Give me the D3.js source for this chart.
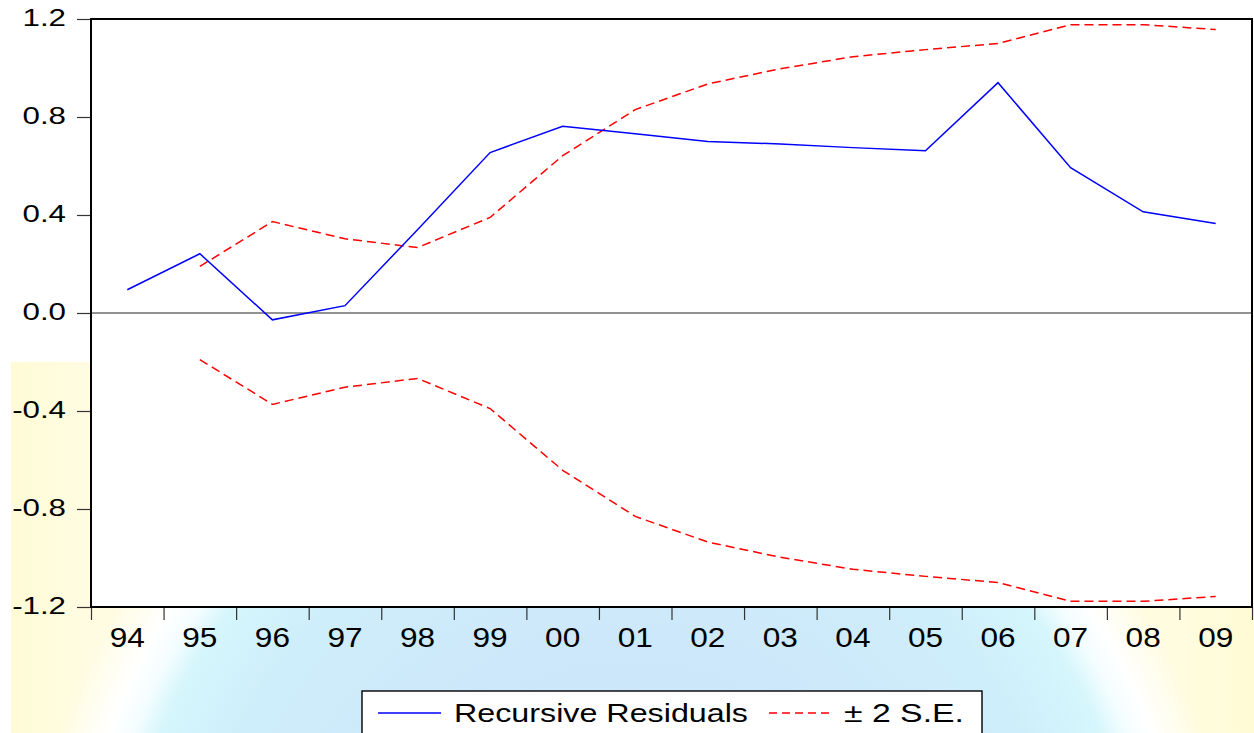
<!DOCTYPE html>
<html>
<head>
<meta charset="utf-8">
<script src="https://cdn.jsdelivr.net/npm/d3@7"></script>
<style>
  html, body { margin: 0; padding: 0; background: #ffffff; }
  svg { display: block; font-family: "Liberation Sans", Arial, sans-serif; }
</style>
</head>
<body>
<svg id="chart" width="1254" height="733"></svg>
<script>
// Recursive residuals with ±2 standard-error bands, 1994–2009
const years = ["94","95","96","97","98","99","00","01","02","03","04","05","06","07","08","09"];
const residuals = [0.095, 0.242, -0.028, 0.030, 0.340, 0.655, 0.762, 0.732, 0.700, 0.690, 0.675, 0.662, 0.940, 0.593, 0.413, 0.365];
// band starts one period later (first residual has no standard error)
const seUpper = [null, 0.190, 0.373, 0.303, 0.267, 0.390, 0.642, 0.830, 0.935, 0.997, 1.046, 1.075, 1.100, 1.177, 1.177, 1.157];
const seLower = seUpper.map(v => v == null ? null : -v);
const yTicks = [-1.2, -0.8, -0.4, 0.0, 0.4, 0.8, 1.2];
const yTickLabels = ["-1.2", "-0.8", "-0.4", "0.0", "0.4", "0.8", "1.2"];
const legendLabels = ["Recursive Residuals", "\u00B1 2 S.E."];

const svg = d3.select("#chart");
const W = 1254, H = 733;
const m = { left: 91, top: 19, right: 1252, bottom: 607 };

// ---- backdrop: pale yellow panel with a soft blue globe ----
const defs = svg.append("defs");
const yg = defs.append("linearGradient").attr("id", "yellowBg").attr("x1", "0").attr("x2", "1");
yg.append("stop").attr("offset", "0%").attr("stop-color", "#fffbd6");
yg.append("stop").attr("offset", "6%").attr("stop-color", "#fffce2");
yg.append("stop").attr("offset", "94%").attr("stop-color", "#fffce0");
yg.append("stop").attr("offset", "100%").attr("stop-color", "#fffbd4");

const rg = defs.append("radialGradient").attr("id", "globe")
  .attr("gradientUnits", "userSpaceOnUse").attr("cx", 630).attr("cy", 916).attr("r", 600);
rg.append("stop").attr("offset", "0%").attr("stop-color", "#c9ddf8");
rg.append("stop").attr("offset", "72%").attr("stop-color", "#cfeefb");
rg.append("stop").attr("offset", "84%").attr("stop-color", "#d6f6fc");
rg.append("stop").attr("offset", "88%").attr("stop-color", "#f3fdff");
rg.append("stop").attr("offset", "92%").attr("stop-color", "#ffffff");
rg.append("stop").attr("offset", "100%").attr("stop-color", "#ffffff").attr("stop-opacity", 0);

svg.append("rect").attr("x", 11).attr("y", 362).attr("width", W - 11).attr("height", H - 362)
  .attr("fill", "url(#yellowBg)");
svg.append("circle").attr("cx", 630).attr("cy", 916).attr("r", 600).attr("fill", "url(#globe)");

// ---- scales ----
const xBand = d3.scaleBand().domain(years).range([m.left, m.right]).padding(0);
const xEdge = d3.scaleLinear().domain([0, years.length]).range([m.left, m.right]);
const y = d3.scaleLinear().domain([-1.2, 1.2]).range([m.bottom, m.top]);
const cx = d => xBand(d) + xBand.bandwidth() / 2;

// plot panel
svg.append("rect").attr("x", m.left).attr("y", m.top)
  .attr("width", m.right - m.left).attr("height", m.bottom - m.top).attr("fill", "#ffffff");

// zero reference line
svg.append("line").attr("x1", m.left).attr("x2", m.right)
  .attr("y1", y(0)).attr("y2", y(0)).attr("stroke", "#6e6e6e").attr("stroke-width", 1.3);

// ---- y axis ----
const ySx = 1.36;
const yAxis = svg.append("g").attr("transform", `translate(${m.left},0)`)
  .call(d3.axisLeft(y).tickValues(yTicks).tickSize(14).tickPadding(11)
    .tickFormat((d, i) => yTickLabels[i]));
yAxis.select(".domain").remove();
yAxis.selectAll(".tick line").attr("stroke", "#333").attr("stroke-width", 1.2);
yAxis.selectAll(".tick text")
  .attr("font-size", 23).attr("font-family", "Liberation Sans, Arial, sans-serif")
  .attr("fill", "#000").attr("dy", "0.28em")
  .attr("x", -25 / ySx).attr("transform", `scale(${ySx},1)`);

// ---- x axis: boundary ticks + centred year labels ----
const xTicksG = svg.append("g").attr("transform", `translate(0,${m.bottom})`)
  .call(d3.axisBottom(xEdge).tickValues(d3.range(years.length + 1)).tickSize(13).tickFormat(""));
xTicksG.select(".domain").remove();
xTicksG.selectAll(".tick line").attr("stroke", "#333").attr("stroke-width", 1.2);

const xSx = 1.17;
svg.append("g").selectAll("text").data(years).join("text")
  .attr("x", d => cx(d) / xSx).attr("y", 647)
  .attr("transform", `scale(${xSx},1)`)
  .attr("text-anchor", "middle").attr("font-size", 27).attr("fill", "#000")
  .text(d => d);

// ---- series ----
const line = d3.line().defined(d => d[1] != null).x(d => cx(d[0])).y(d => y(d[1]));

const bandStyle = sel => sel.attr("fill", "none").attr("stroke", "#ff0000")
  .attr("stroke-width", 1.5).attr("stroke-dasharray", "9,5");
svg.append("path").datum(years.map((d, i) => [d, seUpper[i]])).attr("d", line).call(bandStyle);
svg.append("path").datum(years.map((d, i) => [d, seLower[i]])).attr("d", line).call(bandStyle);

svg.append("path").datum(years.map((d, i) => [d, residuals[i]])).attr("d", line)
  .attr("fill", "none").attr("stroke", "#0000ff").attr("stroke-width", 1.5);

// frame
svg.append("rect").attr("x", m.left).attr("y", m.top)
  .attr("width", m.right - m.left).attr("height", m.bottom - m.top)
  .attr("fill", "none").attr("stroke", "#000").attr("stroke-width", 2);

// ---- legend ----
const lg = svg.append("g");
lg.append("rect").attr("x", 362).attr("y", 691).attr("width", 620).attr("height", 70)
  .attr("fill", "#ffffff").attr("stroke", "#000").attr("stroke-width", 1.4);
lg.append("line").attr("x1", 378).attr("x2", 441).attr("y1", 713).attr("y2", 713)
  .attr("stroke", "#0000ff").attr("stroke-width", 1.5);
lg.append("text").attr("x", 454).attr("y", 722).attr("font-size", 25)
  .attr("textLength", 294).attr("lengthAdjust", "spacingAndGlyphs").text(legendLabels[0]);
lg.append("line").attr("x1", 769).attr("x2", 833).attr("y1", 713).attr("y2", 713)
  .attr("stroke", "#ff0000").attr("stroke-width", 1.5).attr("stroke-dasharray", "8,5");
lg.append("text").attr("x", 844).attr("y", 722).attr("font-size", 25)
  .attr("textLength", 120).attr("lengthAdjust", "spacingAndGlyphs").text(legendLabels[1]);
</script>
</body>
</html>
